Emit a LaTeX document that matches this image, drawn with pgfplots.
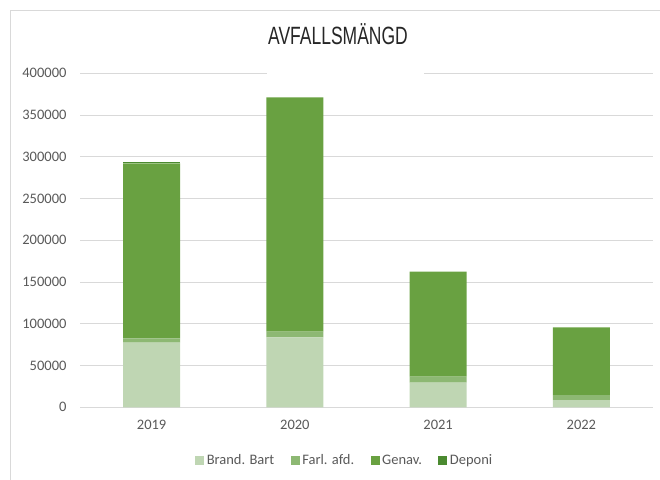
\documentclass[border=0pt]{standalone}
\usepackage{pgfplots}
\pgfplotsset{compat=1.18}
\usepackage{graphicx}
\usepackage{fontspec}
\setmainfont{Carlito}
\newfontfamily\titlefont{Liberation Sans}
\definecolor{cBrand}{HTML}{BFD6B3}
\definecolor{cFarl}{HTML}{8DB873}
\definecolor{cGenav}{HTML}{69A141}
\definecolor{cDeponi}{HTML}{4B8A30}
\definecolor{gridc}{HTML}{D9D9D9}
\definecolor{txt}{HTML}{595959}
\begin{document}
\begin{tikzpicture}[x=1pt,y=1pt]
\path[use as bounding box] (0,0) rectangle (660,479);
\draw[gridc, line width=0.8pt] (10,-5) -- (10,469) -- (665,469);
\begin{axis}[
  at={(80pt,71.7pt)}, anchor=south west,
  scale only axis, width=573pt, height=334pt,
  ybar stacked, bar width=57pt,
  xmin=-0.5, xmax=3.5, ymin=0, ymax=400000,
  xtick={0,1,2,3}, xticklabels={2019,2020,2021,2022},
  ytick={0,50000,...,400000},
  scaled y ticks=false,
  yticklabel style={/pgf/number format/fixed, /pgf/number format/1000 sep={}, xshift=-10pt},
  /pgf/number format/assume math mode=true,
  xticklabel style={yshift=-9pt},
  tick label style={font=\fontsize{14.5}{16}\selectfont, text=txt},
  major tick length=0pt,
  axis line style={draw=none},
  ymajorgrids, grid style={gridc, line width=0.9pt},
  legend columns=4,
  legend style={at={(0.4625,-0.158)}, anchor=center, draw=none, fill=none,
    font=\fontsize{14.5}{16}\selectfont, text=txt,
    /tikz/every even column/.append style={column sep=14pt},
    nodes={inner sep=2.5pt}},
  legend image code/.code={\fill[#1] (0pt,-4.5pt) rectangle (9pt,4.5pt);},
]
\addplot[fill=cBrand, draw=none] coordinates {(0,77400) (1,83800) (2,29500) (3,8700)};
\addplot[fill=cFarl, draw=none] coordinates {(0,5200) (1,6700) (2,7100) (3,6000)};
\addplot[fill=cGenav, draw=none] coordinates {(0,209400) (1,280800) (2,125800) (3,81100)};
\addplot[fill=cDeponi, draw=none] coordinates {(0,2100) (1,0) (2,0) (3,0)};
\legend{Brand. Bart, Farl. afd., Genav., Deponi}
\end{axis}
\fill[white] (267,400) rectangle (424,412);
\node[text=black!85] at (338,445) {\scalebox{0.7}[1]{\titlefont\fontsize{25}{25}\selectfont AVFALLSMÄNGD}};
\end{tikzpicture}
\end{document}
